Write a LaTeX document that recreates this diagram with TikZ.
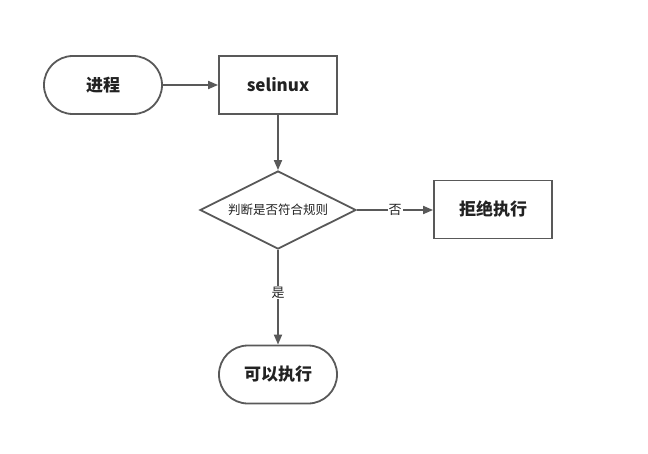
\documentclass[tikz,border=0pt]{standalone}
\usepackage{fontspec}
\setmainfont{Noto Sans CJK SC}
\usetikzlibrary{arrows.meta,shapes.geometric}
\definecolor{edge}{HTML}{595959}
\definecolor{txt}{HTML}{222222}
\tikzset{
  base/.style={draw=edge,line width=1.8pt,fill=white,text=txt,font=\bfseries\fontsize{17}{19}\selectfont,inner sep=0pt},
  stadium/.style={base,rectangle,rounded corners=28.9pt,minimum width=118pt,minimum height=58pt},
  procbox/.style={base,rectangle,minimum width=118pt,minimum height=58pt},
  decide/.style={base,diamond,aspect=2,minimum width=156pt,minimum height=78pt,font=\fontsize{12.5}{14}\selectfont},
  conn/.style={draw=edge,line width=1.8pt,-{Triangle[length=10pt,width=8pt]}},
  lbl/.style={fill=white,text=txt,font=\fontsize{13}{15}\selectfont,inner sep=1pt}
}
\begin{document}
\begin{tikzpicture}[x=1pt,y=-1pt]
\useasboundingbox (0,0) rectangle (648,453);
\node[stadium] (proc) at (103,85) {进程};
\node[procbox] (sel) at (278,85) {selinux};
\node[decide] (judge) at (278,210) {判断是否符合规则};
\node[procbox] (deny) at (493,209.5) {拒绝执行};
\node[stadium] (ok) at (278,374.5) {可以执行};
\draw[conn] (proc) -- (sel);
\draw[conn] (sel) -- (judge);
\draw[conn] (judge.east) -- node[lbl]{否} (deny.west |- judge.east);
\draw[conn] (judge) -- node[lbl,pos=0.45]{是} (ok);
\end{tikzpicture}
\end{document}
